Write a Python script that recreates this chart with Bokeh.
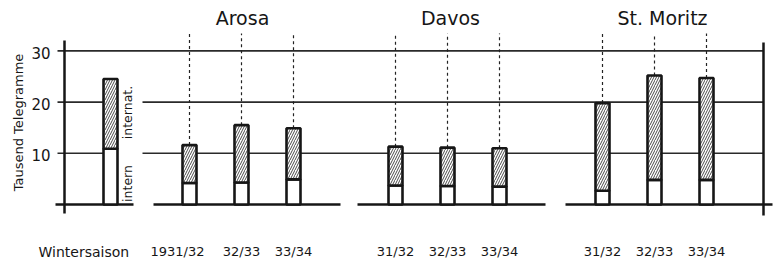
import numpy as np
from bokeh.plotting import figure
from bokeh.models import Range1d, ColumnDataSource
from bokeh.core.properties import value
from bokeh.embed import file_html
from bokeh.resources import INLINE

# ---------------- data (thousand telegrams per winter season) ----------------
places = ["Arosa", "Davos", "St. Moritz"]
season_labels = [["1931/32", "32/33", "33/34"],
                 ["31/32", "32/33", "33/34"],
                 ["31/32", "32/33", "33/34"]]
intern_vals = [[4.2, 4.3, 4.9], [3.7, 3.6, 3.5], [2.7, 4.8, 4.8]]
total_vals = [[11.6, 15.5, 14.9], [11.3, 11.1, 11.0], [19.8, 25.2, 24.7]]
sum_intern = [10.9]
sum_total = [24.5]
y_ticks = [10, 20, 30]
y_tick_labels = ["10", "20", "30"]
y_title = "Tausend Telegramme"
x_title = "Wintersaison"
part_labels = ["intern", "internat."]

# ---------------- layout ----------------
PX = 5.12          # pixels per thousand
W, H = 777, 264
BASE = 204.0       # pixel row of the zero line
FONT = value("DejaVu Sans")
INK = "#161616"

def v(row):
    """convert a pixel row into data units"""
    return (BASE - row) / PX

p = figure(width=W, height=H, output_backend="svg", toolbar_location=None,
           x_range=Range1d(0, W), y_range=Range1d(v(H), v(0)),
           x_axis_location=None, y_axis_location=None,
           min_border=0, outline_line_color=None, background_fill_color="white",
           border_fill_color="white")
p.grid.visible = False

total_x = 110
group_x0 = [189, 395, 602]
step = 52
bw = 14

xs, ins, tots, labs = [], [], [], []
for g in range(3):
    for j in range(3):
        xs.append(group_x0[g] + j * step)
        ins.append(intern_vals[g][j])
        tots.append(total_vals[g][j])
        labs.append(season_labels[g][j])

# horizontal grid lines
gx0 = [57, 142, 57, 142, 57]
gx1 = [110, 763, 110, 763, 763]
gy = [y_ticks[0], y_ticks[0], y_ticks[1], y_ticks[1], y_ticks[2]]
p.segment(x0=gx0, y0=gy, x1=gx1, y1=gy, line_color="#2a2a2a", line_width=1.6)

# base line segments
b0 = [55, 153, 357, 565]
b1 = [133, 340, 545, 772]
p.segment(x0=b0, y0=[0] * 4, x1=b1, y1=[0] * 4, line_color=INK, line_width=2.5)

# vertical frame lines
p.segment(x0=[64, 763], y0=[v(40), v(42)], x1=[64, 763], y1=[v(213), v(215)],
          line_color=INK, line_width=2.5)

# dashed guide lines above each bar
p.segment(x0=xs, y0=tots, x1=xs, y1=[v(33)] * len(xs),
          line_color="#222222", line_width=1.2, line_dash="3 3")

# bars: intern part (white) and international part (hatched)
src = ColumnDataSource(dict(x=xs, l=[x - bw / 2 for x in xs], r=[x + bw / 2 for x in xs],
                            i=ins, t=tots))
p.quad(left="l", right="r", bottom=0, top="i", source=src,
       fill_color="white", line_color=INK, line_width=2.6)
p.quad(left="l", right="r", bottom="i", top="t", source=src,
       fill_color="white", hatch_pattern="/", hatch_color="#4a4a4a",
       hatch_scale=5, hatch_weight=1.0, line_color=INK, line_width=2.6)

# overall bar on the left
p.quad(left=[total_x - bw / 2], right=[total_x + bw / 2], bottom=[0], top=sum_intern,
       fill_color="white", line_color=INK, line_width=2.6)
p.quad(left=[total_x - bw / 2], right=[total_x + bw / 2], bottom=sum_intern, top=sum_total,
       fill_color="white", hatch_pattern="/", hatch_color="#4a4a4a",
       hatch_scale=5, hatch_weight=1.0, line_color=INK, line_width=2.6)

# texts
p.text(x=[242, 450, 662], y=[v(17)] * 3, text=places, text_font=FONT,
       text_font_size="19px", text_align="center", text_baseline="middle", text_color=INK)
p.text(x=[50] * 3, y=y_ticks, text=y_tick_labels, text_font=FONT, text_font_size="15px",
       text_align="right", text_baseline="middle", text_color=INK, y_offset=2)
p.text(x=[18], y=[v(122)], text=[y_title], angle=np.pi / 2, text_font=FONT,
       text_font_size="13px", text_align="center", text_baseline="middle", text_color=INK)
p.text(x=[127, 127], y=[v(183), v(112)], text=part_labels, angle=np.pi / 2, text_font=FONT,
       text_font_size="12.5px", text_align="center", text_baseline="middle", text_color=INK)
p.text(x=[38], y=[v(251)], text=[x_title], text_font=FONT, text_font_size="14px",
       text_align="left", text_baseline="middle", text_color=INK)
lab_x = [x - 12 if i == 0 else x for i, x in enumerate(xs)]
p.text(x=lab_x, y=[v(251)] * len(xs), text=labs, text_font=FONT, text_font_size="13px",
       text_align="center", text_baseline="middle", text_color=INK)

open("out.html", "w").write(file_html(p, INLINE))
